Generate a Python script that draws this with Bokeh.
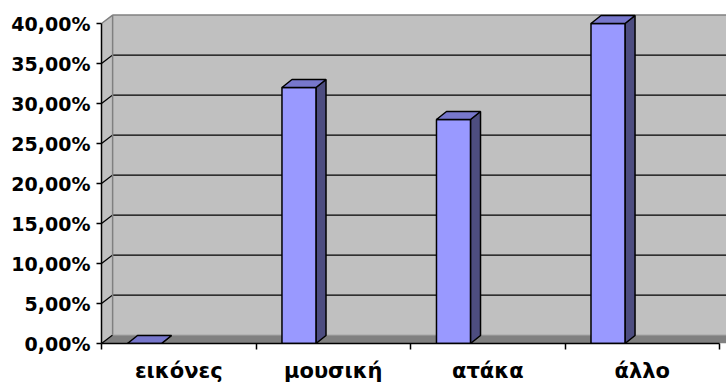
from bokeh.plotting import figure
from bokeh.models import Range1d, FixedTicker, CustomJSTickFormatter, LinearAxis
from bokeh.embed import file_html
from bokeh.resources import INLINE

# Survey answers (share of respondents, %)
categories = ["εικόνες", "μουσική", "ατάκα", "άλλο"]
shares = [0.0, 32.0, 28.0, 40.0]
y_ticks = [0, 5, 10, 15, 20, 25, 30, 35, 40]

# Pseudo-3D projection: depth offsets in data units (x: category units, y: percent)
WALL_DX, WALL_DY = 0.072, 1.05
BAR_DX, BAR_DY = 0.065, 1.0
BAR_LEFT, BAR_W = 0.168, 0.22
X_END = 4.045
Y_TOP = 42.875
n = len(categories)
y_max = y_ticks[-1]

p = figure(width=726, height=385,
           x_range=Range1d(0, X_END), y_range=Range1d(0, Y_TOP),
           x_axis_type=None, y_axis_type=None,
           output_backend="svg", toolbar_location=None,
           min_border_left=101, min_border_right=0,
           min_border_top=0, min_border_bottom=42)
p.outline_line_color = None
p.background_fill_color = "white"
p.border_fill_color = "white"

WALL = "#c0c0c0"
EDGE = "#808080"

# back wall
p.patch([WALL_DX, X_END + 1, X_END + 1, WALL_DX],
        [WALL_DY, WALL_DY, y_max + WALL_DY, y_max + WALL_DY],
        fill_color=WALL, line_color=None)
# side wall
p.patch([0, WALL_DX, WALL_DX, 0],
        [0, WALL_DY, y_max + WALL_DY, y_max],
        fill_color=WALL, line_color=None)
# floor
p.patch([0, X_END + 1, X_END + 1, WALL_DX],
        [0, 0, WALL_DY, WALL_DY],
        fill_color="#808080", line_color=None)

# gridlines on the back wall and their diagonals on the side wall
inner = [v for v in y_ticks if 0 < v < y_max]
p.segment(x0=[WALL_DX] * len(inner), y0=[v + WALL_DY for v in inner],
          x1=[X_END + 1] * len(inner), y1=[v + WALL_DY for v in inner],
          line_color="black", line_width=1.2)
diag = [v for v in y_ticks if v < y_max]
p.segment(x0=[0] * len(diag), y0=diag,
          x1=[WALL_DX] * len(diag), y1=[v + WALL_DY for v in diag],
          line_color="black", line_width=1.2)

# wall edges
p.line([0, WALL_DX, WALL_DX], [y_max, y_max + WALL_DY, WALL_DY],
       line_color=EDGE, line_width=1.5)
p.line([WALL_DX, X_END + 1], [y_max + WALL_DY, y_max + WALL_DY],
       line_color=EDGE, line_width=1.5)
p.line([WALL_DX, X_END + 1], [WALL_DY, WALL_DY],
       line_color="#a0a0a0", line_width=1)

# bars: front, side and top faces
front_xs, front_ys, side_xs, side_ys, top_xs, top_ys = [], [], [], [], [], []
for i, v in enumerate(shares):
    x0 = i + BAR_LEFT
    x1 = x0 + BAR_W
    front_xs.append([x0, x1, x1, x0])
    front_ys.append([0, 0, v, v])
    side_xs.append([x1, x1 + BAR_DX, x1 + BAR_DX, x1])
    side_ys.append([0, BAR_DY, v + BAR_DY, v])
    top_xs.append([x0, x1, x1 + BAR_DX, x0 + BAR_DX])
    top_ys.append([v, v, v + BAR_DY, v + BAR_DY])

p.patches(side_xs, side_ys, fill_color="#4d4d80", line_color="black", line_width=1.5)
p.patches(front_xs, front_ys, fill_color="#9999ff", line_color="black", line_width=1.5)
p.patches(top_xs, top_ys, fill_color="#7777cc", line_color="black", line_width=1.5)

FONT = "DejaVu Sans"

yaxis = LinearAxis(
    ticker=FixedTicker(ticks=y_ticks, minor_ticks=[]),
    formatter=CustomJSTickFormatter(code="return tick.toFixed(2).replace('.', ',') + '%';"),
    bounds=(0, y_max))
yaxis.axis_line_color = "black"
yaxis.axis_line_width = 1.5
yaxis.major_tick_line_color = "black"
yaxis.major_tick_line_width = 1.5
yaxis.major_tick_in = 0
yaxis.major_tick_out = 5
yaxis.minor_tick_line_color = None
yaxis.major_label_standoff = 6
yaxis.major_label_text_font = FONT
yaxis.major_label_text_font_style = "bold"
yaxis.major_label_text_font_size = "19px"
yaxis.major_label_text_color = "black"
p.add_layout(yaxis, "left")

centers = [i + 0.5 for i in range(n)]
xaxis = LinearAxis(
    ticker=FixedTicker(ticks=centers, minor_ticks=list(range(n + 1))),
    bounds=(0, n),
    major_label_overrides={c: name for c, name in zip(centers, categories)})
xaxis.axis_line_color = "black"
xaxis.axis_line_width = 1.5
xaxis.major_tick_line_color = None
xaxis.major_tick_in = 0
xaxis.major_tick_out = 0
xaxis.minor_tick_line_color = "black"
xaxis.minor_tick_line_width = 1.5
xaxis.minor_tick_in = 0
xaxis.minor_tick_out = 6
xaxis.major_label_standoff = 9
xaxis.major_label_text_font = FONT
xaxis.major_label_text_font_style = "bold"
xaxis.major_label_text_font_size = "21px"
xaxis.major_label_text_color = "black"
p.add_layout(xaxis, "below")

open("out.html", "w").write(file_html(p, INLINE))
